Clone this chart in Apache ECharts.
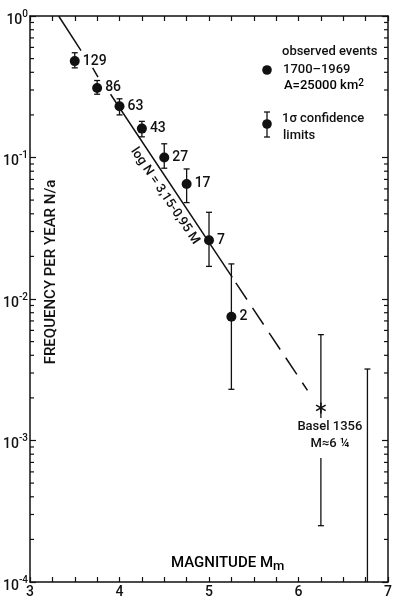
<!DOCTYPE html>
<html>
<head>
<meta charset="utf-8">
<script src="https://cdn.jsdelivr.net/npm/echarts@6/dist/echarts.min.js"></script>
<style>
  html, body { margin: 0; padding: 0; background: #fff; }
  #chart { width: 395px; height: 602px; }
</style>
</head>
<body>
<div id="chart"></div>
<script>
// observed events 1700-1969
const magnitudes = [3.5, 3.75, 4.0, 4.25, 4.5, 4.75, 5.0, 5.25]
const frequency = [0.48, 0.31, 0.23, 0.16, 0.10, 0.065, 0.026, 0.0075]
const eventCounts = [129, 86, 63, 43, 27, 17, 7, 2]
const errLow = [0.43, 0.28, 0.20, 0.14, 0.084, 0.048, 0.017, 0.0023]
const errHigh = [0.55, 0.35, 0.26, 0.18, 0.125, 0.083, 0.041, 0.0177]

// Basel 1356, M ~ 6 1/4
const baselMag = 6.25
const baselFreq = 0.0017
const baselLow = 0.00025
const baselHigh = 0.0056

// bar at the right edge (upper limit)
const limitMag = 6.77
const limitTop = 0.0032
const limitBottom = 0.0001

// log N = 3,15 - 0,95 M
const fitSolid = [[3.32, 1.0], [3.57, 0.57], [3.64, '-'], [3.70, 0.43], [3.76, 0.37], [3.83, '-'], [3.90, 0.28], [5.26, 0.0142]]
const fitDashed = [[5.30, 0.0130], [6.10, 0.00226]]

const xTicks = [3, 4, 5, 6, 7]
const yDecades = ['0', '-1', '-2', '-3', '-4']
const yMinorTicks = [
  2e-4, 3e-4, 4e-4, 5e-4, 6e-4, 7e-4, 8e-4, 9e-4,
  2e-3, 3e-3, 4e-3, 5e-3, 6e-3, 7e-3, 8e-3, 9e-3,
  2e-2, 3e-2, 4e-2, 5e-2, 6e-2, 7e-2, 8e-2, 9e-2,
  2e-1, 3e-1, 4e-1, 5e-1, 6e-1, 7e-1, 8e-1, 9e-1
]

const FONT = `Roboto, 'Noto Sans', sans-serif`
const W = 500
const INK = '#111'

const chart = echarts.init(document.getElementById('chart'))

function errorBarItem (params, api) {
  const lo = api.coord([api.value(0), api.value(1)])
  const hi = api.coord([api.value(0), api.value(2)])
  const cap = 3
  const st = { stroke: INK, lineWidth: 1.3 }
  return {
    type: 'group',
    children: [
      { type: 'line', shape: { x1: lo[0], y1: lo[1], x2: hi[0], y2: hi[1] }, style: st },
      { type: 'line', shape: { x1: lo[0] - cap, y1: lo[1], x2: lo[0] + cap, y2: lo[1] }, style: st },
      { type: 'line', shape: { x1: hi[0] - cap, y1: hi[1], x2: hi[0] + cap, y2: hi[1] }, style: st }
    ]
  }
}

const xAxisBase = {
  type: 'value',
  min: 3,
  max: 7,
  interval: 1,
  axisLine: { lineStyle: { color: INK, width: 1.5 } },
  axisTick: { inside: true, length: 5, lineStyle: { color: INK, width: 1.2 } },
  minorTick: { show: true, splitNumber: 4, length: 5, lineStyle: { color: INK, width: 1.2 } },
  splitLine: { show: false }
}

const yAxisBase = {
  type: 'log',
  logBase: 10,
  min: 0.0001,
  max: 1,
  axisLine: { show: true, lineStyle: { color: INK, width: 1.5 } },
  axisTick: { show: true, inside: true, length: 6, lineStyle: { color: INK, width: 1.2 } },
  splitLine: { show: false }
}

const option = {
  backgroundColor: '#fff',
  animation: false,
  textStyle: { fontFamily: FONT, fontWeight: W },
  grid: { left: 30, right: 3, top: 16, bottom: 20 },
  xAxis: [
    Object.assign({}, xAxisBase, {
      position: 'bottom',
      axisLabel: {
        margin: 3,
        color: INK,
        fontSize: 14,
        fontWeight: W,
        fontFamily: FONT,
        formatter: v => xTicks.includes(v) ? String(v) : ''
      }
    }),
    Object.assign({}, xAxisBase, { position: 'top', axisLabel: { show: false } })
  ],
  yAxis: [
    Object.assign({}, yAxisBase, {
      position: 'left',
      axisLabel: {
        margin: 2,
        color: INK,
        fontFamily: FONT,
        formatter: v => {
          const e = Math.round(Math.log10(v))
          return '{b|10}{s|' + yDecades[-e] + '}'
        },
        rich: {
          b: { fontSize: 14, fontWeight: W, fontFamily: FONT, color: INK, padding: [8, 0, 0, 0] },
          s: { fontSize: 10, fontWeight: W, fontFamily: FONT, color: INK, padding: [0, 0, 4, 0] }
        }
      }
    }),
    Object.assign({}, yAxisBase, { position: 'right', axisLabel: { show: false } })
  ],
  graphic: [
    // legend
    { type: 'circle', shape: { cx: 267, cy: 70, r: 4.8 }, style: { fill: INK } },
    { type: 'line', shape: { x1: 267, y1: 112, x2: 267, y2: 137 }, style: { stroke: INK, lineWidth: 1.3 } },
    { type: 'line', shape: { x1: 264, y1: 112, x2: 270, y2: 112 }, style: { stroke: INK, lineWidth: 1.3 } },
    { type: 'line', shape: { x1: 264, y1: 137, x2: 270, y2: 137 }, style: { stroke: INK, lineWidth: 1.3 } },
    { type: 'circle', shape: { cx: 267, cy: 124, r: 4.8 }, style: { fill: INK } },
    {
      type: 'text', left: 282, top: 45,
      style: { text: 'observed events', font: `${W} 13px ${FONT}`, fill: INK }
    },
    {
      type: 'text', left: 283, top: 63,
      style: { text: '1700–1969', font: `${W} 13px ${FONT}`, fill: INK }
    },
    {
      type: 'text', left: 284, top: 78,
      style: {
        text: '{a|A=25000 km}{s|2}',
        rich: {
          a: { fontSize: 13, fontWeight: W, fontFamily: FONT, color: INK, padding: [6, 0, 0, 0] },
          s: { fontSize: 10, fontWeight: W, fontFamily: FONT, color: INK }
        }
      }
    },
    {
      type: 'text', left: 282, top: 112,
      style: { text: '1σ confidence', font: `${W} 13px ${FONT}`, fill: INK }
    },
    {
      type: 'text', left: 283, top: 129,
      style: { text: 'limits', font: `${W} 13px ${FONT}`, fill: INK }
    },
    // axis names
    {
      type: 'text', x: 51, y: 272, rotation: Math.PI / 2,
      style: {
        text: 'FREQUENCY PER YEAR N/a', font: `${W} 15px ${FONT}`, fill: INK,
        align: 'center', verticalAlign: 'middle'
      }
    },
    {
      type: 'text', left: 171, top: 556,
      style: {
        text: '{a|MAGNITUDE M}{s|m}',
        rich: {
          a: { fontSize: 15, fontWeight: W, fontFamily: FONT, color: INK },
          s: { fontSize: 13, fontWeight: W, fontFamily: FONT, color: INK, padding: [6, 0, 0, 0] }
        }
      }
    },
    // fit relation written along the line
    {
      type: 'text', x: 165, y: 196, rotation: -0.98,
      style: {
        text: 'log N = 3,15-0,95 M', font: `${W} 13px ${FONT}`, fill: INK,
        align: 'center', verticalAlign: 'middle'
      }
    }
  ],
  series: [
    {
      // minor ticks of the log axes, left and right
      type: 'custom',
      silent: true,
      data: yMinorTicks.map(v => [3, v]),
      renderItem (params, api) {
        const p = api.coord([api.value(0), api.value(1)])
        const cs = params.coordSys
        const st = { stroke: INK, lineWidth: 1.2 }
        return {
          type: 'group',
          children: [
            { type: 'line', shape: { x1: cs.x, y1: p[1], x2: cs.x + 4, y2: p[1] }, style: st },
            { type: 'line', shape: { x1: cs.x + cs.width - 4, y1: p[1], x2: cs.x + cs.width, y2: p[1] }, style: st }
          ]
        }
      }
    },
    {
      name: 'fit',
      type: 'line',
      data: fitSolid,
      symbol: 'none',
      connectNulls: false,
      lineStyle: { color: INK, width: 1.5 }
    },
    {
      name: 'fit extrapolated',
      type: 'line',
      data: fitDashed,
      symbol: 'none',
      lineStyle: { color: INK, width: 1.5, type: [20, 10] }
    },
    {
      name: 'confidence',
      type: 'custom',
      data: magnitudes.map((m, i) => [m, errLow[i], errHigh[i]]).concat([[baselMag, baselLow, baselHigh]]),
      renderItem: errorBarItem,
      z: 3
    },
    {
      name: 'upper limit',
      type: 'custom',
      data: [[limitMag, limitBottom, limitTop]],
      renderItem (params, api) {
        const lo = api.coord([api.value(0), api.value(1)])
        const hi = api.coord([api.value(0), api.value(2)])
        const st = { stroke: INK, lineWidth: 1.3 }
        return {
          type: 'group',
          children: [
            { type: 'line', shape: { x1: lo[0], y1: lo[1], x2: hi[0], y2: hi[1] }, style: st },
            { type: 'line', shape: { x1: hi[0] - 3, y1: hi[1], x2: hi[0] + 3, y2: hi[1] }, style: st }
          ]
        }
      }
    },
    {
      name: 'observed events',
      type: 'scatter',
      data: magnitudes.map((m, i) => [m, frequency[i]]),
      symbol: 'circle',
      symbolSize: 10,
      itemStyle: { color: INK, opacity: 1 },
      label: {
        show: true,
        position: 'right',
        distance: 3,
        color: INK,
        fontSize: 14,
        fontWeight: W,
        fontFamily: FONT,
        formatter: p => String(eventCounts[p.dataIndex])
      },
      z: 5
    },
    {
      name: 'Basel 1356',
      type: 'custom',
      data: [[baselMag, baselFreq]],
      z: 6,
      renderItem (params, api) {
        const c = api.coord([api.value(0), api.value(1)])
        const r = 5.5
        const st = { stroke: INK, lineWidth: 1.6 }
        const arms = [0, Math.PI / 3, 2 * Math.PI / 3].map(a => ({
          type: 'line',
          shape: {
            x1: c[0] - r * Math.sin(a), y1: c[1] - r * Math.cos(a),
            x2: c[0] + r * Math.sin(a), y2: c[1] + r * Math.cos(a)
          },
          style: st
        }))
        arms.push({
          type: 'text',
          x: c[0] + 9,
          y: c[1] + 10,
          style: {
            text: 'Basel 1356\nM≈6 ¼',
            font: `${W} 13px ${FONT}`,
            fill: INK,
            align: 'center',
            verticalAlign: 'top',
            lineHeight: 17,
            backgroundColor: '#fff',
            padding: [0, 0, 6, 0]
          }
        })
        return { type: 'group', children: arms }
      }
    }
  ]
}

chart.setOption(option)
</script>
</body>
</html>
